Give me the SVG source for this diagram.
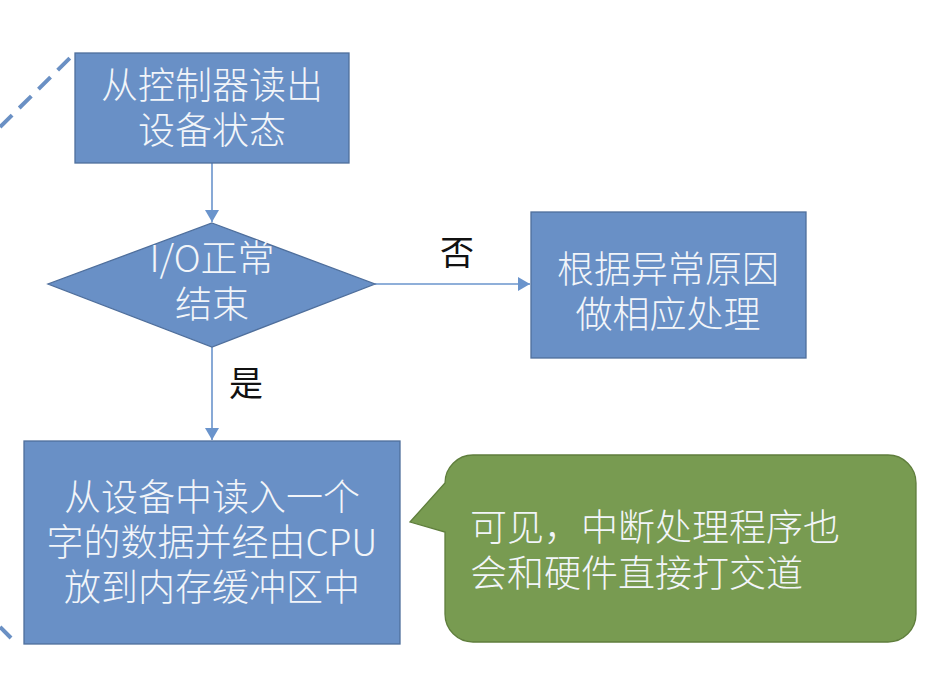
<svg xmlns="http://www.w3.org/2000/svg" width="936" height="684" viewBox="0 0 936 684">
<style>
.box{fill:#6990c6;stroke:#4f6f9c;stroke-width:1.3}
.call{fill:#789b51;stroke:#5f7e3c;stroke-width:1.3}
.wt{fill:#f2f5f9;font-family:"Noto Sans CJK SC","Noto Sans",sans-serif;font-size:37px;font-weight:300;text-anchor:middle}
.lbl{fill:#111;font-family:"Noto Sans CJK SC","Noto Sans",sans-serif;font-size:34px;text-anchor:middle}
.con{stroke:#6a94cc;stroke-width:1.6;fill:none}
.dash{stroke:#6a90c4;stroke-width:4;fill:none;stroke-dasharray:17 10}
</style>
<defs>
<marker id="ah" markerWidth="12" markerHeight="14" refX="12" refY="7" orient="auto" markerUnits="userSpaceOnUse">
<path d="M0,0 L12,7 L0,14 Z" fill="#6a94cc"/>
</marker>
</defs>
<rect width="936" height="684" fill="#ffffff"/>
<g id="decor">
<line class="dash" x1="0" y1="127" x2="73" y2="55"/>
<line class="dash" x1="0" y1="627" x2="11" y2="638" style="stroke-dasharray:none"/>
</g>
<g id="connectors">
<line class="con" x1="212" y1="163" x2="212" y2="222" marker-end="url(#ah)"/>
<line class="con" x1="375" y1="284" x2="530" y2="284" marker-end="url(#ah)"/>
<line class="con" x1="212" y1="347" x2="212" y2="440" marker-end="url(#ah)"/>
<text class="lbl" x="457" y="265">否</text>
<text class="lbl" x="246" y="396">是</text>
</g>
<g id="n1">
<rect class="box" x="75" y="53" width="274" height="110"/>
<text class="wt" x="212" y="99">从控制器读出</text>
<text class="wt" x="212" y="144">设备状态</text>
</g>
<g id="n2">
<polygon class="box" points="212,223 375,284 212,347 48,284"/>
<text class="wt" x="212" y="272">I/O正常</text>
<text class="wt" x="212" y="318">结束</text>
</g>
<g id="n3">
<rect class="box" x="531" y="212" width="275" height="146"/>
<text class="wt" x="668" y="283">根据异常原因</text>
<text class="wt" x="668" y="328">做相应处理</text>
</g>
<g id="n4">
<rect class="box" x="24" y="441" width="376" height="203"/>
<text class="wt" x="212" y="511">从设备中读入一个</text>
<text class="wt" x="212" y="556">字的数据并经由CPU</text>
<text class="wt" x="212" y="601">放到内存缓冲区中</text>
</g>
<g id="n5">
<path class="call" d="M473,455 H888 A28,28 0 0 1 916,483 V614 A28,28 0 0 1 888,642 H473 A28,28 0 0 1 445,614 V532 L410,522 L445,483 A28,28 0 0 1 473,455 Z"/>
<text class="wt" x="470" y="541" style="text-anchor:start">可见，中断处理程序也</text>
<text class="wt" x="470" y="587" style="text-anchor:start">会和硬件直接打交道</text>
</g>
</svg>
